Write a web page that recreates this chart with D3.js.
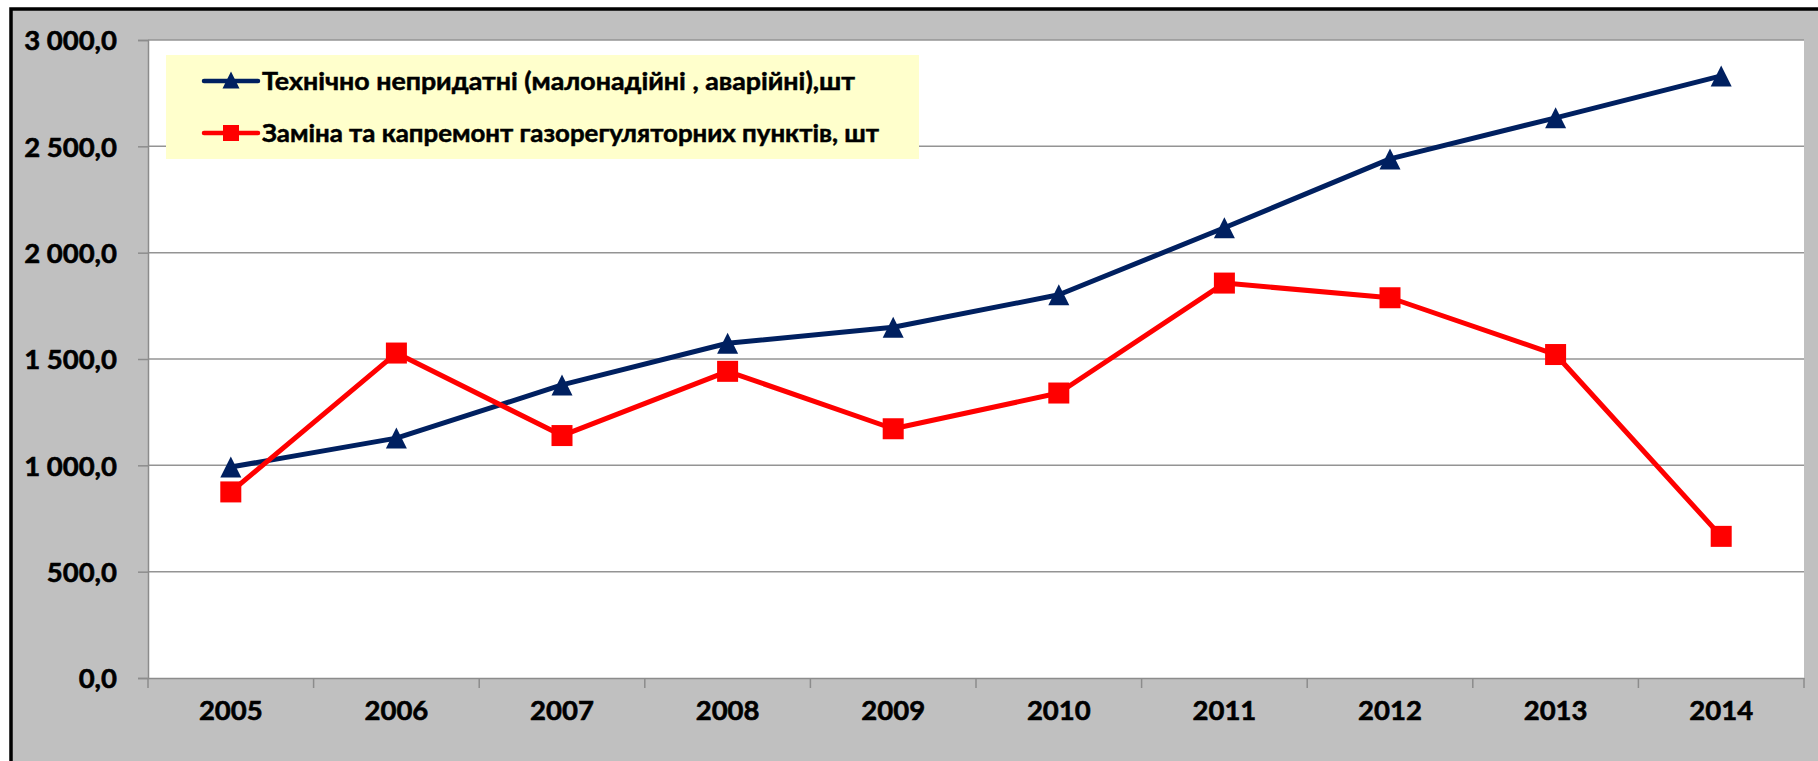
<!DOCTYPE html>
<html>
<head>
<meta charset="utf-8">
<script src="https://cdn.jsdelivr.net/npm/d3@7"></script>
<style>
  html, body { margin: 0; padding: 0; background: #ffffff; overflow: hidden; }
  svg { display: block; }
  text { font-family: Lato, "Open Sans", "DejaVu Sans", sans-serif; font-weight: 700; fill: #000; }
</style>
</head>
<body>
<svg id="chart" width="1818" height="761"></svg>
<script>
// ---- data ----
const years = ["2005","2006","2007","2008","2009","2010","2011","2012","2013","2014"];
const unfitValues = [992, 1128, 1378, 1574, 1649, 1802, 2117, 2441, 2634, 2831];
const replacedValues = [875, 1528, 1140, 1442, 1172, 1340, 1857, 1788, 1521, 666];
const yTickValues = [0, 500, 1000, 1500, 2000, 2500, 3000];
const seriesNames = [
  "Технічно непридатні (малонадійні , аварійні),шт",
  "Заміна та капремонт газорегуляторних пунктів, шт"
];

// ---- layout ----
const W = 1818, H = 761;
const plot = { left: 148, right: 1804, top: 40, bottom: 678 };
const svg = d3.select("#chart");

// outer chart area (gray with black border, clipped at right/bottom)
svg.append("rect").attr("x", 11).attr("y", 9).attr("width", W + 20).attr("height", H + 20)
  .attr("fill", "#c0c0c0").attr("stroke", "#000").attr("stroke-width", 3.5);

// plot area
svg.append("rect").attr("x", plot.left).attr("y", plot.top)
  .attr("width", plot.right - plot.left).attr("height", plot.bottom - plot.top)
  .attr("fill", "#ffffff");

const x = d3.scaleBand().domain(years).range([plot.left, plot.right]).padding(0);
const y = d3.scaleLinear().domain([0, 3000]).range([plot.bottom, plot.top]);

const loc = d3.formatLocale({ decimal: ",", thousands: " ", grouping: [3], currency: ["", ""] });
const fmt = loc.format(",.1f");

// gridlines
svg.append("g").selectAll("line").data(yTickValues.filter(v => v > 0)).join("line")
  .attr("x1", plot.left).attr("x2", plot.right)
  .attr("y1", d => y(d)).attr("y2", d => y(d))
  .attr("stroke", "#949494").attr("stroke-width", 1.5);

// y axis
const yAxis = svg.append("g").attr("transform", `translate(${plot.left},0)`)
  .call(d3.axisLeft(y).tickValues(yTickValues).tickSize(10).tickPadding(21).tickFormat(fmt));
yAxis.select(".domain").attr("stroke", "#8c8c8c").attr("stroke-width", 1.5);
yAxis.selectAll(".tick line").attr("stroke", "#8c8c8c").attr("stroke-width", 1.5);
yAxis.selectAll(".tick text").attr("font-size", 27.5).attr("font-family", "Lato, sans-serif")
  .attr("font-weight", 700).attr("fill", "#000").attr("stroke", "#000").attr("stroke-width", 0.6)
  .attr("dy", "0.36em");

// x axis
const xAxis = svg.append("g").attr("transform", `translate(0,${plot.bottom})`)
  .call(d3.axisBottom(x).tickSize(0).tickPadding(42));
xAxis.select(".domain").attr("stroke", "#8c8c8c").attr("stroke-width", 1.5);
xAxis.selectAll(".tick text").attr("font-size", 27.5).attr("font-family", "Lato, sans-serif")
  .attr("font-weight", 700).attr("fill", "#000").attr("stroke", "#000").attr("stroke-width", 0.6)
  .attr("dy", "0");
const bounds = years.map(d => x(d)).concat([x(years[years.length - 1]) + x.bandwidth()]);
svg.append("g").selectAll("line").data(bounds).join("line")
  .attr("x1", d => d).attr("x2", d => d)
  .attr("y1", plot.bottom).attr("y2", plot.bottom + 10)
  .attr("stroke", "#8c8c8c").attr("stroke-width", 1.5);

const cx = d => x(d) + x.bandwidth() / 2;
const triPath = s => `M0,${-s/2}L${s/2},${s/2}L${-s/2},${s/2}Z`;

const series = [
  { name: seriesNames[0], values: unfitValues, color: "#002060", marker: "tri" },
  { name: seriesNames[1], values: replacedValues, color: "#ff0000", marker: "sq" }
];

// lines + markers
series.forEach(s => {
  const pts = years.map((yr, i) => [cx(yr), y(s.values[i])]);
  svg.append("path").attr("d", d3.line()(pts)).attr("fill", "none")
    .attr("stroke", s.color).attr("stroke-width", 5).attr("stroke-linejoin", "round");
  const g = svg.append("g");
  if (s.marker === "tri") {
    g.selectAll("path").data(pts).join("path")
      .attr("transform", p => `translate(${p[0]},${p[1]})`)
      .attr("d", triPath(21)).attr("fill", s.color);
  } else {
    g.selectAll("rect").data(pts).join("rect")
      .attr("x", p => p[0] - 10.5).attr("y", p => p[1] - 10.5)
      .attr("width", 21).attr("height", 21).attr("fill", s.color);
  }
});

// legend
const leg = svg.append("g");
leg.append("rect").attr("x", 166).attr("y", 55).attr("width", 919 - 166).attr("height", 159 - 55)
  .attr("fill", "#ffffcc");
const rowsY = [81, 133];
const textLens = [593, 617];
series.forEach((s, i) => {
  const ry = rowsY[i];
  leg.append("line").attr("x1", 204).attr("x2", 258).attr("y1", ry).attr("y2", ry)
    .attr("stroke", s.color).attr("stroke-width", 4.5).attr("stroke-linecap", "round");
  if (s.marker === "tri") {
    leg.append("path").attr("transform", `translate(231,${ry - 1})`).attr("d", triPath(17)).attr("fill", s.color);
  } else {
    leg.append("rect").attr("x", 231 - 8).attr("y", ry - 8).attr("width", 16).attr("height", 16).attr("fill", s.color);
  }
  leg.append("text").attr("x", 262).attr("y", ry + 8.5)
    .attr("font-size", 24.5).attr("stroke", "#000").attr("stroke-width", 0.5)
    .attr("textLength", textLens[i]).attr("lengthAdjust", "spacingAndGlyphs")
    .text(s.name);
});
</script>
</body>
</html>
